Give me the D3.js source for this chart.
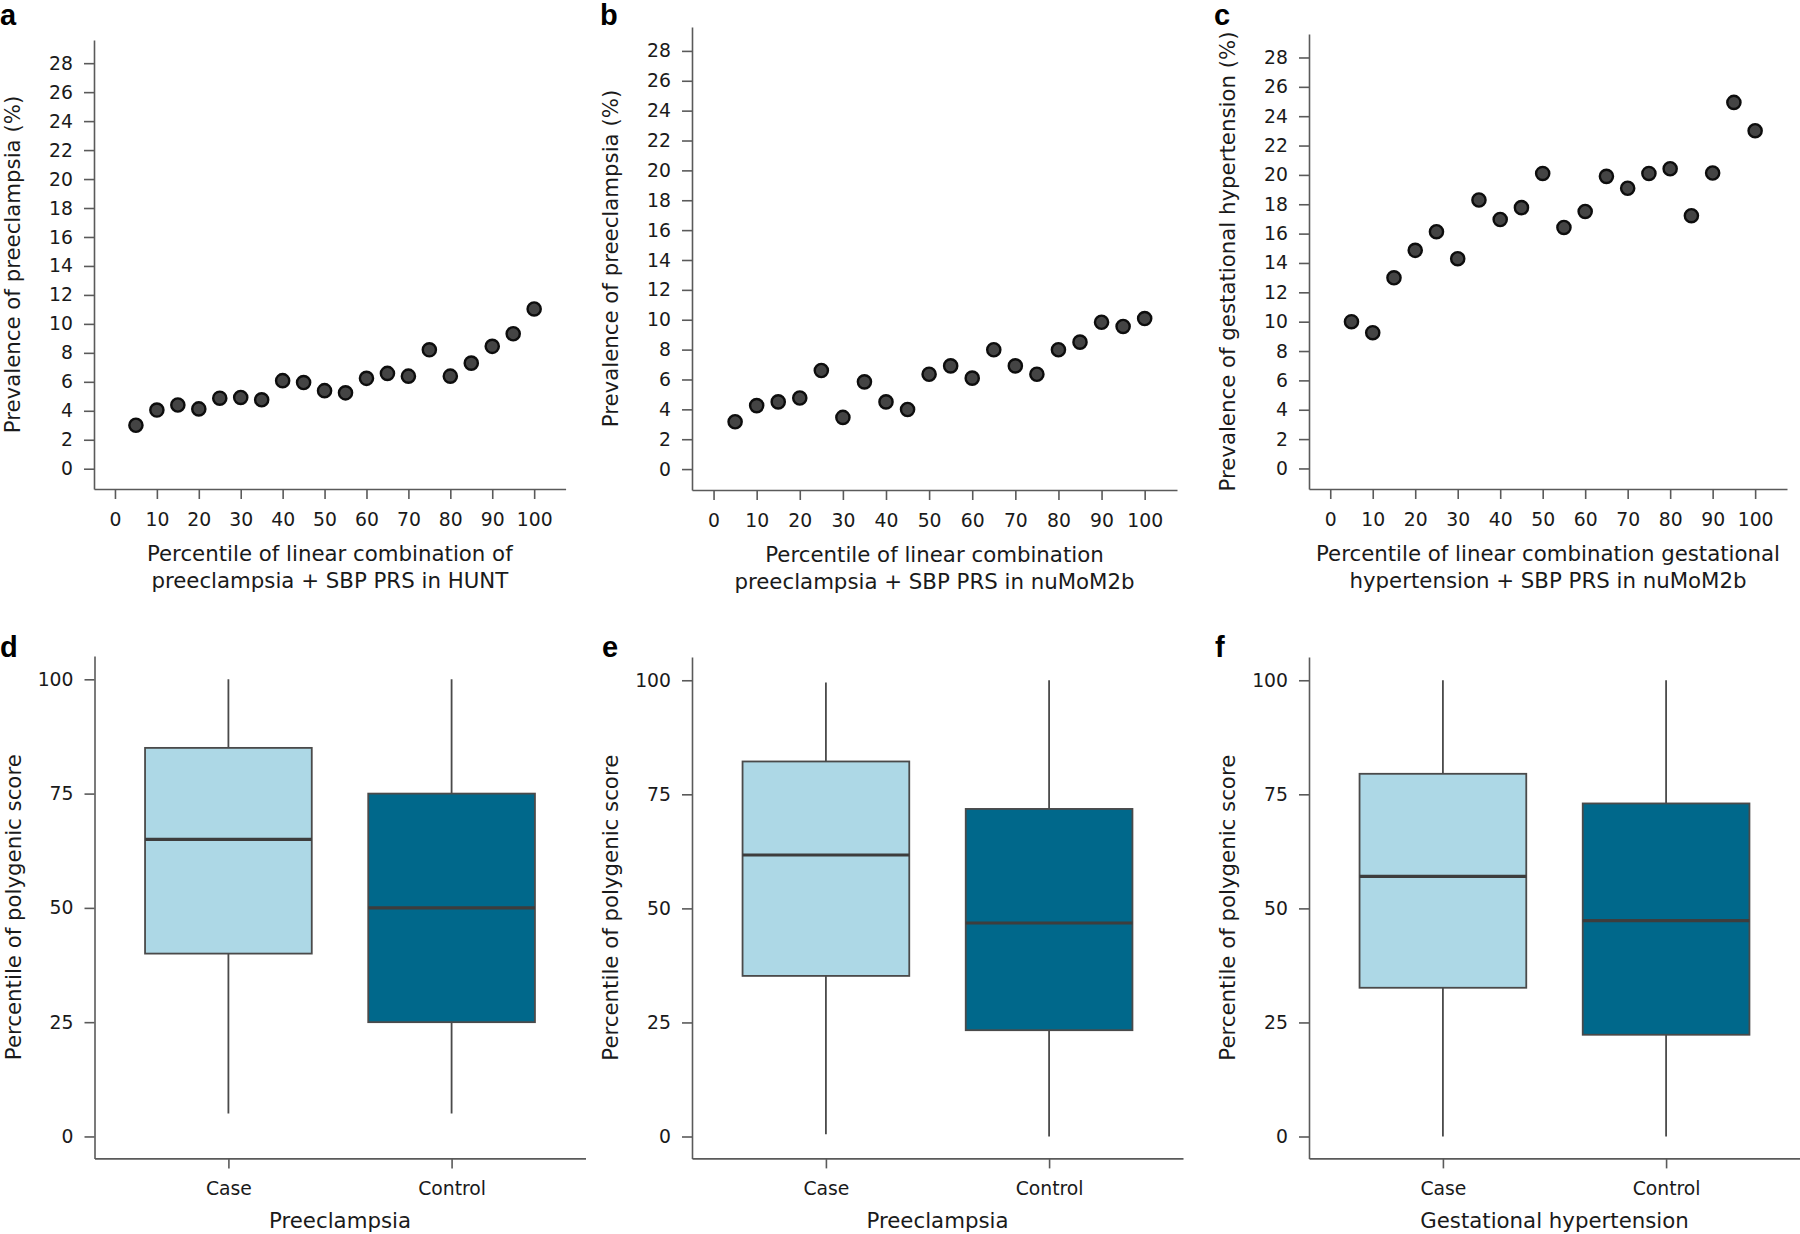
<!DOCTYPE html>
<html>
<head>
<meta charset="utf-8">
<script src="https://cdn.jsdelivr.net/npm/d3@7"></script>
<style>
  html, body { margin: 0; padding: 0; background: #fff; }
  svg { display: block; }
  text { font-family: "DejaVu Sans", "Open Sans", sans-serif; fill: #1a1a1a; }
  .panel-label { font-family: "Liberation Sans", Arial, sans-serif; font-weight: bold; font-size: 29px; fill: #000; }
</style>
</head>
<body>
<svg id="chart" width="1800" height="1234"></svg>
<script>
// ---------------- DATA ----------------
const percentiles = [5, 10, 15, 20, 25, 30, 35, 40, 45, 50, 55, 60, 65, 70, 75, 80, 85, 90, 95, 100];
const prevalenceA = [3.0, 4.05, 4.4, 4.13, 4.87, 4.92, 4.76, 6.08, 5.95, 5.39, 5.24, 6.24, 6.58, 6.39, 8.21, 6.39, 7.29, 8.45, 9.32, 11.03];
const prevalenceB = [3.17, 4.25, 4.5, 4.76, 6.6, 3.46, 5.84, 4.5, 3.99, 6.35, 6.91, 6.09, 7.99, 6.91, 6.35, 7.99, 8.5, 9.83, 9.55, 10.08];
const prevalenceC = [10.0, 9.25, 12.99, 14.86, 16.13, 14.29, 18.29, 16.96, 17.77, 20.1, 16.42, 17.51, 19.9, 19.09, 20.1, 20.42, 17.22, 20.13, 24.94, 23.01];
const scatterXTicks = [0, 10, 20, 30, 40, 50, 60, 70, 80, 90, 100];
const scatterYTicks = [0, 2, 4, 6, 8, 10, 12, 14, 16, 18, 20, 22, 24, 26, 28];

const boxGroups = ["Case", "Control"];
const boxYTicks = [0, 25, 50, 75, 100];
// panel d
const boxD_low = [5, 5];
const boxD_q1 = [40, 25];
const boxD_med = [65, 50];
const boxD_q3 = [85, 75];
const boxD_high = [100, 100];
// panel e
const boxE_low = [0.5, 0];
const boxE_q1 = [35.2, 23.3];
const boxE_med = [61.7, 46.8];
const boxE_q3 = [82.2, 71.8];
const boxE_high = [99.5, 100];
// panel f
const boxF_low = [0, 0];
const boxF_q1 = [32.6, 22.3];
const boxF_med = [57.0, 47.3];
const boxF_q3 = [79.5, 73.0];
const boxF_high = [100, 100];
const boxColors = ["#ADD8E6", "#00688B"];

// ---------------- DRAW ----------------
const svg = d3.select("#chart");
const AXIS_COLOR = "#5a5a5a";
const TICK_FONT = 18.8;
const TITLE_FONT = 21.3;

function styleAxis(g) {
  g.selectAll("path.domain").attr("stroke", AXIS_COLOR).attr("stroke-width", 1.6);
  g.selectAll(".tick line").attr("stroke", AXIS_COLOR).attr("stroke-width", 1.6);
  g.selectAll(".tick text").attr("font-size", TICK_FONT).attr("fill", "#1a1a1a")
    .attr("font-family", "\"DejaVu Sans\", sans-serif");
}

function scatterPanel(p) {
  const x = d3.scaleLinear().domain([-5, 107.5]).range([p.x0, p.x1]);
  const y = d3.scaleLinear().domain([-1.4, 29.6]).range([p.yBottom, p.yTop]);
  const g = svg.append("g");

  const gx = g.append("g").attr("transform", `translate(0,${p.yBottom})`)
    .call(d3.axisBottom(x).tickValues(scatterXTicks).tickSize(10).tickSizeOuter(0).tickPadding(14));
  styleAxis(gx);
  const gy = g.append("g").attr("transform", `translate(${p.x0},0)`)
    .call(d3.axisLeft(y).tickValues(scatterYTicks).tickSize(10).tickSizeOuter(0).tickPadding(11));
  styleAxis(gy);

  g.selectAll("circle.pt").data(percentiles.map((v, i) => ({ x: v, y: p.values[i] })))
    .enter().append("circle").attr("class", "pt")
    .attr("cx", d => x(d.x)).attr("cy", d => y(d.y)).attr("r", 6.6)
    .attr("fill", "#444").attr("stroke", "#0d0d0d").attr("stroke-width", 2.4);

  const cx = (p.x0 + p.x1) / 2;
  p.xTitle.forEach((line, i) => {
    g.append("text").attr("x", cx).attr("y", p.yBottom + 72 + i * 27)
      .attr("text-anchor", "middle").attr("font-size", TITLE_FONT).text(line);
  });
  const cy = (p.yTop + p.yBottom) / 2;
  g.append("text").attr("transform", `translate(${p.x0 - 81},${cy}) rotate(-90)`)
    .attr("text-anchor", "middle").attr("dy", "0.35em").attr("font-size", TITLE_FONT).text(p.yTitle);

  svg.append("text").attr("class", "panel-label").attr("x", p.labelX).attr("y", p.labelY).text(p.label);
}

function boxPanel(p) {
  const x = d3.scalePoint().domain(boxGroups).range([p.x0, p.x1]).padding(0.6);
  const y = d3.scaleLinear().domain([-4.8, 105.1]).range([p.yBottom, p.yTop]);
  const bw = x.step() * 0.747;
  const g = svg.append("g");

  const gx = g.append("g").attr("transform", `translate(0,${p.yBottom})`)
    .call(d3.axisBottom(x).tickSize(10).tickSizeOuter(0).tickPadding(13));
  styleAxis(gx);
  const gy = g.append("g").attr("transform", `translate(${p.x0},0)`)
    .call(d3.axisLeft(y).tickValues(boxYTicks).tickSize(10).tickSizeOuter(0).tickPadding(11));
  styleAxis(gy);

  const rows = boxGroups.map((k, i) => ({
    k, low: p.low[i], q1: p.q1[i], med: p.med[i], q3: p.q3[i], high: p.high[i], color: boxColors[i]
  }));
  const b = g.selectAll("g.box").data(rows).enter().append("g").attr("class", "box");
  b.append("line").attr("x1", d => x(d.k)).attr("x2", d => x(d.k))
    .attr("y1", d => y(d.high)).attr("y2", d => y(d.low))
    .attr("stroke", "#4a4a4a").attr("stroke-width", 1.8);
  b.append("rect").attr("x", d => x(d.k) - bw / 2).attr("width", bw)
    .attr("y", d => y(d.q3)).attr("height", d => y(d.q1) - y(d.q3))
    .attr("fill", d => d.color).attr("stroke", "#4a4a4a").attr("stroke-width", 1.8);
  b.append("line").attr("x1", d => x(d.k) - bw / 2).attr("x2", d => x(d.k) + bw / 2)
    .attr("y1", d => y(d.med)).attr("y2", d => y(d.med))
    .attr("stroke", "#3d3d3d").attr("stroke-width", 3.2);

  g.append("text").attr("x", (p.x0 + p.x1) / 2).attr("y", p.yBottom + 70)
    .attr("text-anchor", "middle").attr("font-size", TITLE_FONT).text(p.xTitle);
  const cy = (p.yTop + p.yBottom) / 2;
  g.append("text").attr("transform", `translate(${p.x0 - 81},${cy}) rotate(-90)`)
    .attr("text-anchor", "middle").attr("dy", "0.35em").attr("font-size", TITLE_FONT).text(p.yTitle);

  svg.append("text").attr("class", "panel-label").attr("x", p.labelX).attr("y", p.labelY).text(p.label);
}

scatterPanel({ x0: 94, x1: 565.6, yTop: 40, yBottom: 489, values: prevalenceA,
  xTitle: ["Percentile of linear combination of", "preeclampsia + SBP PRS in HUNT"],
  yTitle: "Prevalence of preeclampsia (%)", label: "a", labelX: 0, labelY: 25 });
scatterPanel({ x0: 692, x1: 1177, yTop: 27, yBottom: 490, values: prevalenceB,
  xTitle: ["Percentile of linear combination", "preeclampsia + SBP PRS in nuMoM2b"],
  yTitle: "Prevalence of preeclampsia (%)", label: "b", labelX: 600, labelY: 25 });
scatterPanel({ x0: 1309, x1: 1787, yTop: 34, yBottom: 489, values: prevalenceC,
  xTitle: ["Percentile of linear combination gestational", "hypertension + SBP PRS in nuMoM2b"],
  yTitle: "Prevalence of gestational hypertension (%)", label: "c", labelX: 1214, labelY: 25 });

boxPanel({ x0: 94.5, x1: 585.5, yTop: 656, yBottom: 1158.4,
  low: boxD_low, q1: boxD_q1, med: boxD_med, q3: boxD_q3, high: boxD_high,
  xTitle: "Preeclampsia", yTitle: "Percentile of polygenic score", label: "d", labelX: 0, labelY: 657 });
boxPanel({ x0: 692, x1: 1183, yTop: 657, yBottom: 1158.4,
  low: boxE_low, q1: boxE_q1, med: boxE_med, q3: boxE_q3, high: boxE_high,
  xTitle: "Preeclampsia", yTitle: "Percentile of polygenic score", label: "e", labelX: 602, labelY: 657 });
boxPanel({ x0: 1309, x1: 1800, yTop: 657, yBottom: 1158.4,
  low: boxF_low, q1: boxF_q1, med: boxF_med, q3: boxF_q3, high: boxF_high,
  xTitle: "Gestational hypertension", yTitle: "Percentile of polygenic score", label: "f", labelX: 1215, labelY: 657 });
</script>
</body>
</html>
